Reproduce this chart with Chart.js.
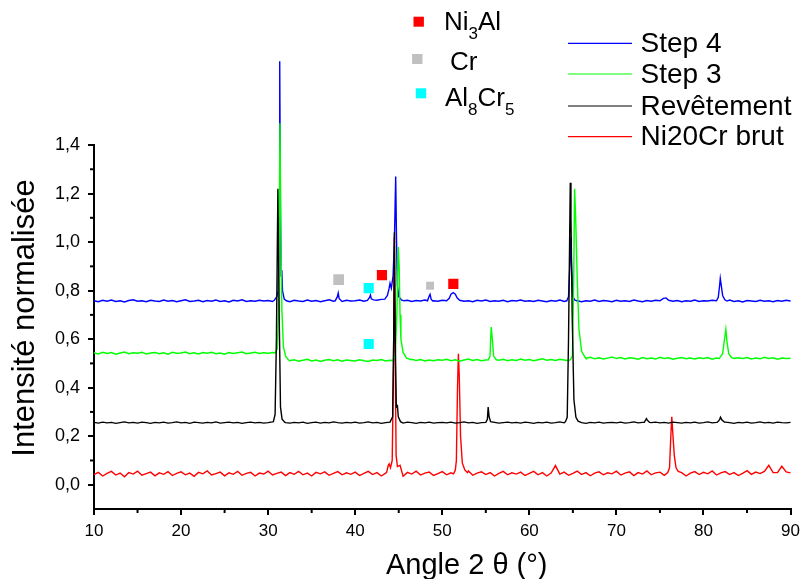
<!DOCTYPE html>
<html>
<head>
<meta charset="utf-8">
<script src="https://cdn.jsdelivr.net/npm/chart.js@4.4.1/dist/chart.umd.min.js"></script>
<style>
  body { margin: 0; background: #fff; }
  canvas { display: block; }
</style>
</head>
<body>
<canvas id="xrd" width="806" height="579"></canvas>
<script>
// baseline samples every 0.5 deg from 10 to 90
const baseStart = 10;
const baseStep = 0.5;

const step4Base = [
  0.758,0.754,0.760,0.756,0.761,0.755,0.758,0.753,0.759,0.762,0.756,0.758,0.754,0.760,0.757,0.755,0.761,0.756,0.759,0.754,
  0.758,0.762,0.755,0.757,0.760,0.754,0.759,0.756,0.761,0.755,0.758,0.753,0.760,0.757,0.762,0.755,0.758,0.756,0.760,0.757,
  0.759,0.755,0.761,0.756,0.758,0.754,0.760,0.757,0.755,0.761,0.756,0.759,0.754,0.758,0.762,0.756,0.759,0.755,0.760,0.757,
  0.758,0.761,0.756,0.759,0.763,0.760,0.764,0.761,0.765,0.762,0.758,0.756,0.760,0.755,0.759,0.757,0.761,0.754,0.758,0.756,
  0.760,0.757,0.755,0.759,0.762,0.756,0.758,0.754,0.760,0.757,0.761,0.755,0.758,0.756,0.760,0.754,0.759,0.757,0.761,0.756,
  0.758,0.755,0.760,0.757,0.754,0.759,0.756,0.761,0.755,0.758,0.757,0.760,0.754,0.758,0.756,0.761,0.755,0.759,0.757,0.754,
  0.760,0.756,0.758,0.755,0.761,0.757,0.754,0.759,0.756,0.760,0.755,0.758,0.762,0.756,0.759,0.754,0.758,0.756,0.761,0.755,
  0.758,0.757,0.760,0.754,0.759,0.756,0.761,0.755,0.758,0.753,0.759,0.757,0.755,0.760,0.756,0.758,0.754,0.759,0.756,0.760,
  0.757
];
const step3Base = [
  0.544,0.539,0.546,0.541,0.545,0.538,0.543,0.547,0.540,0.544,0.542,0.546,0.539,0.543,0.545,0.540,0.544,0.538,0.546,0.542,
  0.543,0.547,0.540,0.544,0.539,0.545,0.542,0.546,0.540,0.543,0.538,0.545,0.541,0.544,0.547,0.540,0.543,0.546,0.541,0.544,
  0.542,0.545,0.543,0.520,0.516,0.511,0.515,0.509,0.513,0.517,0.510,0.514,0.508,0.513,0.516,0.511,0.515,0.509,0.514,0.512,
  0.510,0.515,0.511,0.508,0.514,0.512,0.516,0.510,0.513,0.509,0.515,0.511,0.514,0.517,0.512,0.516,0.510,0.514,0.511,0.515,
  0.513,0.517,0.511,0.515,0.509,0.514,0.518,0.512,0.516,0.511,0.514,0.510,0.516,0.513,0.517,0.511,0.515,0.512,0.518,0.513,
  0.516,0.511,0.515,0.519,0.513,0.516,0.512,0.517,0.514,0.511,0.520,0.524,0.526,0.521,0.525,0.519,0.523,0.518,0.522,0.526,
  0.520,0.524,0.518,0.523,0.521,0.517,0.524,0.519,0.522,0.518,0.525,0.520,0.523,0.517,0.521,0.524,0.519,0.522,0.518,0.523,
  0.520,0.524,0.517,0.522,0.519,0.525,0.521,0.518,0.523,0.520,0.524,0.518,0.522,0.519,0.525,0.520,0.523,0.517,0.522,0.520,
  0.521
];
const coatingBase = [
  0.257,0.254,0.258,0.255,0.257,0.253,0.256,0.259,0.255,0.257,0.254,0.258,0.256,0.253,0.257,0.255,0.258,0.254,0.256,0.259,
  0.255,0.257,0.253,0.258,0.256,0.254,0.257,0.255,0.259,0.254,0.256,0.258,0.255,0.257,0.253,0.256,0.258,0.255,0.257,0.254,
  0.256,0.259,0.255,0.258,0.256,0.254,0.257,0.255,0.258,0.253,0.256,0.258,0.254,0.257,0.255,0.259,0.256,0.254,0.257,0.255,
  0.258,0.254,0.256,0.259,0.255,0.257,0.253,0.256,0.258,0.255,0.257,0.254,0.258,0.256,0.253,0.257,0.255,0.258,0.254,0.256,
  0.257,0.255,0.258,0.254,0.256,0.259,0.255,0.257,0.253,0.256,0.258,0.255,0.257,0.254,0.256,0.258,0.255,0.257,0.254,0.258,
  0.256,0.253,0.257,0.255,0.258,0.254,0.256,0.259,0.255,0.257,0.254,0.258,0.256,0.253,0.257,0.255,0.258,0.254,0.256,0.257,
  0.255,0.258,0.254,0.256,0.259,0.255,0.257,0.253,0.256,0.258,0.255,0.257,0.254,0.258,0.256,0.254,0.257,0.255,0.258,0.254,
  0.256,0.259,0.255,0.257,0.254,0.258,0.256,0.253,0.257,0.255,0.258,0.254,0.256,0.259,0.255,0.257,0.254,0.258,0.256,0.255,
  0.257
];
const rawBase = [
  0.042,0.051,0.036,0.047,0.055,0.040,0.048,0.033,0.050,0.044,0.056,0.039,0.046,0.052,0.037,0.049,0.043,0.054,0.038,0.047,
  0.053,0.041,0.048,0.035,0.051,0.045,0.057,0.040,0.046,0.052,0.037,0.049,0.043,0.055,0.039,0.047,0.051,0.036,0.048,0.044,
  0.056,0.040,0.047,0.052,0.038,0.050,0.043,0.055,0.041,0.048,0.036,0.051,0.045,0.053,0.039,0.047,0.054,0.041,0.049,0.043,
  0.052,0.038,0.047,0.055,0.042,0.050,0.036,0.048,0.053,0.041,0.047,0.035,0.051,0.044,0.056,0.040,0.048,0.052,0.038,0.046,
  0.054,0.041,0.049,0.037,0.052,0.045,0.057,0.039,0.048,0.053,0.042,0.050,0.036,0.047,0.055,0.041,0.049,0.044,0.052,0.038,
  0.047,0.055,0.041,0.050,0.036,0.048,0.079,0.044,0.052,0.039,0.047,0.056,0.042,0.050,0.037,0.048,0.053,0.041,0.049,0.045,
  0.056,0.040,0.048,0.053,0.038,0.050,0.044,0.057,0.041,0.049,0.052,0.039,0.047,0.055,0.043,0.050,0.036,0.048,0.054,0.042,
  0.051,0.045,0.057,0.040,0.049,0.054,0.042,0.050,0.038,0.047,0.058,0.043,0.052,0.046,0.055,0.080,0.050,0.050,0.076,0.053,
  0.049
];

// peak profiles [angle, intensity]
const step4Peaks = [
  [[30.7,0.760],[31.0,0.775],[31.15,0.800],[31.25,1.100],[31.33,1.745],[31.42,1.100],[31.5,0.860],[31.57,0.885],[31.65,0.800],[31.85,0.765],[32.1,0.758]],
  [[37.7,0.758],[37.95,0.775],[38.05,0.790],[38.15,0.768],[38.4,0.758]],
  [[41.4,0.760],[41.65,0.772],[41.75,0.782],[41.85,0.766],[42.1,0.762]],
  [[43.4,0.765],[43.7,0.780],[43.9,0.810],[44.0,0.830],[44.15,0.810],[44.35,0.860],[44.5,1.000],[44.65,1.270],[44.75,1.000],[44.85,0.820],[45.0,0.775],[45.3,0.762],[45.6,0.758]],
  [[48.3,0.758],[48.5,0.778],[48.6,0.785],[48.72,0.765],[48.9,0.757]],
  [[50.5,0.758],[50.8,0.768],[51.0,0.785],[51.25,0.792],[51.5,0.785],[51.7,0.770],[52.0,0.760]],
  [[64.3,0.758],[64.5,0.775],[64.65,0.900],[64.75,1.020],[64.85,0.900],[65.0,0.775],[65.2,0.762],[65.5,0.758]],
  [[75.0,0.758],[75.4,0.768],[75.7,0.770],[76.0,0.760]],
  [[81.5,0.758],[81.7,0.772],[81.85,0.820],[81.93,0.850],[82.05,0.820],[82.2,0.780],[82.45,0.762],[82.7,0.757]]
];
const step3Peaks = [
  [[30.8,0.543],[31.05,0.560],[31.2,0.720],[31.36,1.490],[31.47,1.000],[31.58,0.720],[31.75,0.570],[32.0,0.530],[32.3,0.516]],
  [[44.3,0.512],[44.6,0.530],[44.78,0.700],[44.95,0.980],[45.05,0.900],[45.15,0.700],[45.25,0.600],[45.5,0.545],[45.9,0.522],[46.4,0.515]],
  [[55.3,0.515],[55.48,0.530],[55.62,0.650],[55.75,0.600],[55.9,0.530],[56.2,0.515]],
  [[64.7,0.515],[64.95,0.530],[65.08,0.800],[65.2,1.220],[65.32,1.100],[65.5,0.850],[65.7,0.640],[66.0,0.550],[66.4,0.525]],
  [[81.8,0.520],[82.2,0.540],[82.42,0.600],[82.57,0.640],[82.7,0.590],[82.9,0.540],[83.2,0.525],[83.5,0.520]]
];
const coatingPeaks = [
  [[30.6,0.260],[30.8,0.290],[30.95,0.600],[31.12,1.220],[31.27,0.700],[31.42,0.320],[31.6,0.270],[31.9,0.258]],
  [[44.1,0.258],[44.3,0.280],[44.42,0.600],[44.5,1.040],[44.6,0.600],[44.72,0.320],[44.85,0.325],[44.95,0.280],[45.2,0.260]],
  [[55.0,0.257],[55.18,0.270],[55.27,0.320],[55.38,0.280],[55.55,0.260]],
  [[64.15,0.260],[64.35,0.278],[64.5,0.600],[64.7,1.244],[64.78,1.100],[64.92,0.700],[65.12,0.350],[65.35,0.278],[65.6,0.262]],
  [[73.2,0.257],[73.45,0.272],[73.55,0.266],[73.8,0.257]],
  [[81.6,0.258],[81.85,0.268],[81.95,0.278],[82.1,0.268],[82.4,0.258]]
];
const rawPeaks = [
  [[43.6,0.050],[43.8,0.080],[43.9,0.086],[44.05,0.070],[44.25,0.100],[44.4,0.500],[44.5,1.020],[44.6,0.500],[44.7,0.120],[44.85,0.075],[45.15,0.080],[45.4,0.048]],
  [[51.3,0.045],[51.5,0.060],[51.62,0.100],[51.75,0.400],[51.85,0.540],[51.95,0.450],[52.1,0.200],[52.3,0.090],[52.6,0.060],[52.9,0.050]],
  [[75.9,0.050],[76.1,0.070],[76.25,0.200],[76.36,0.280],[76.5,0.200],[76.65,0.120],[76.85,0.070],[77.1,0.055]]
];

// phase markers
const ni3alAngle = [43.07, 51.27];
const ni3alInt = [0.864, 0.828];
const crAngle = [38.1, 48.6];
const crInt = [0.845, 0.82];
const al8cr5Angle = [41.55, 41.55];
const al8cr5Int = [0.81, 0.58];

const xTicks = [10, 20, 30, 40, 50, 60, 70, 80, 90];
const yTicks = [0, 0.2, 0.4, 0.6, 0.8, 1.0, 1.2, 1.4];

function buildSeries(base, peaks) {
  const pts = [];
  base.forEach((v, i) => {
    const x = baseStart + i * baseStep;
    const inPeak = peaks.some(g => x >= g[0][0] && x <= g[g.length - 1][0]);
    if (!inPeak) pts.push({ x: x, y: v });
  });
  peaks.forEach(g => g.forEach(p => pts.push({ x: p[0], y: p[1] })));
  pts.sort((a, b) => a.x - b.x);
  return pts;
}

function zipPts(xs, ys) {
  return xs.map((x, i) => ({ x: x, y: ys[i] }));
}

const FONT = "'Liberation Sans', Arial, sans-serif";
Chart.defaults.font.family = FONT;
Chart.defaults.color = '#000';

// minor ticks, titles and the legend block
const decor = {
  id: 'decor',
  afterDraw(chart) {
    const ctx = chart.ctx;
    const xs = chart.scales.x, ys = chart.scales.y;
    ctx.save();
    ctx.strokeStyle = '#000';
    ctx.lineWidth = 2;
    for (let v = 15; v < 90; v += 10) {
      const px = xs.getPixelForValue(v);
      ctx.beginPath(); ctx.moveTo(px, ys.bottom); ctx.lineTo(px, ys.bottom + 4); ctx.stroke();
    }
    for (let v = 0.1; v < 1.4; v += 0.2) {
      const py = ys.getPixelForValue(v);
      ctx.beginPath(); ctx.moveTo(xs.left, py); ctx.lineTo(xs.left - 4, py); ctx.stroke();
    }

    // axis titles
    ctx.fillStyle = '#000';
    ctx.font = '29px ' + FONT;
    ctx.textAlign = 'left';
    ctx.textBaseline = 'alphabetic';
    ctx.fillText('Angle 2 θ (°)', 386, 574);
    ctx.save();
    ctx.translate(25, 318);
    ctx.rotate(-Math.PI / 2);
    ctx.textAlign = 'center';
    ctx.textBaseline = 'middle';
    ctx.font = '31px ' + FONT;
    ctx.fillText('Intensité normalisée', 0, 0);
    ctx.restore();

    // phase legend
    const squares = [['#ff0000', 418.7, 21.7], ['#c0c0c0', 417.3, 59], ['#00ffff', 421, 93.3]];
    squares.forEach(s => { ctx.fillStyle = s[0]; ctx.fillRect(s[1] - 5.2, s[2] - 5, 10.4, 10); });
    ctx.fillStyle = '#000';
    const parts = (x, y, list) => {
      list.forEach(p => {
        ctx.font = (p[1] ? '17px ' : '26px ') + FONT;
        ctx.fillText(p[0], x, y + (p[1] ? 9 : 0));
        x += ctx.measureText(p[0]).width;
      });
    };
    parts(444, 29.5, [['Ni', 0], ['3', 1], ['Al', 0]]);
    parts(450, 69.5, [['Cr', 0]]);
    parts(445, 106, [['Al', 0], ['8', 1], ['Cr', 0], ['5', 1]]);

    // series legend
    const rows = [['#0000ff', 'Step 4', 43.3], ['#00ff00', 'Step 3', 74], ['#000000', 'Revêtement', 106], ['#ff0000', 'Ni20Cr brut', 136.7]];
    ctx.font = '28px ' + FONT;
    rows.forEach(r => {
      ctx.strokeStyle = r[0];
      ctx.lineWidth = 1.2;
      ctx.beginPath(); ctx.moveTo(568, r[2]); ctx.lineTo(632, r[2]); ctx.stroke();
      ctx.fillStyle = '#000';
      ctx.textBaseline = 'middle';
      ctx.fillText(r[1], 640.5, r[2] + 1);
    });
    ctx.restore();
  }
};

const lineDs = (label, data, color, order) => ({
  type: 'line', label: label, data: data, borderColor: color, borderWidth: 1.4,
  pointRadius: 0, tension: 0, clip: false, order: order
});
const markDs = (label, data, color, radius) => ({
  type: 'scatter', label: label, data: data, backgroundColor: color, borderWidth: 0,
  pointStyle: 'rect', pointRadius: radius, order: 0
});

new Chart(document.getElementById('xrd'), {
  data: {
    datasets: [
      lineDs('Step 4', buildSeries(step4Base, step4Peaks), '#0000ff', 3),
      lineDs('Step 3', buildSeries(step3Base, step3Peaks), '#00ff00', 2),
      lineDs('Revêtement', buildSeries(coatingBase, coatingPeaks), '#000000', 1),
      lineDs('Ni20Cr brut', buildSeries(rawBase, rawPeaks), '#ff0000', 4),
      markDs('Ni3Al', zipPts(ni3alAngle, ni3alInt), '#ff0000', 7.2),
      markDs('Cr', zipPts(crAngle, crInt), '#c0c0c0', [7.6, 5.6]),
      markDs('Al8Cr5', zipPts(al8cr5Angle, al8cr5Int), '#00ffff', 7.2)
    ]
  },
  options: {
    responsive: false,
    animation: false,
    layout: { padding: { top: 145, right: 10, left: 0, bottom: 0 } },
    plugins: { legend: { display: false }, tooltip: { enabled: false } },
    scales: {
      x: {
        type: 'linear', min: 10, max: 90,
        afterFit: s => { s.height = 70; },
        afterBuildTicks: s => { s.ticks = xTicks.map(v => ({ value: v })); },
        grid: { drawOnChartArea: false, tickLength: 6, color: '#000', lineWidth: 2 },
        border: { display: true, color: '#000', width: 2 },
        ticks: { font: { size: 17 }, padding: 6, maxRotation: 0 }
      },
      y: {
        type: 'linear', min: -0.1, max: 1.4,
        afterFit: s => { s.width = 94; },
        afterBuildTicks: s => { s.ticks = yTicks.map(v => ({ value: v })); },
        grid: { drawOnChartArea: false, tickLength: 6, color: '#000', lineWidth: 2 },
        border: { display: true, color: '#000', width: 2 },
        ticks: { font: { size: 18 }, padding: 8, callback: v => v.toFixed(1).replace('.', ',') }
      }
    }
  },
  plugins: [decor]
});
</script>
</body>
</html>
